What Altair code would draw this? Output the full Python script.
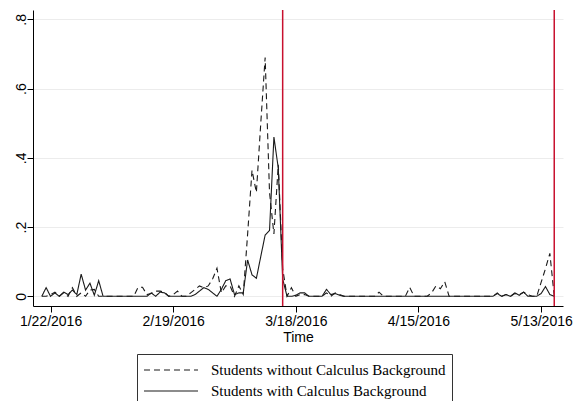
import altair as alt
import pandas as pd

# Daily share of activity, 2016-01-20 .. 2016-05-16
dates = pd.date_range("2016-01-20", "2016-05-16", freq="D").strftime("%Y-%m-%dT00:00:00").tolist()

without_calc = [
    0, 0, 0.005, 0.012, 0, 0.01, 0, 0.025, 0, 0.01,            # 1/20 - 1/29
    0, 0.018, 0.02, 0, 0, 0, 0, 0, 0, 0,                        # 1/30 - 2/8
    0, 0, 0.026, 0.026, 0.005, 0.008, 0.015, 0.015, 0.012, 0,   # 2/9 - 2/18
    0.005, 0.015, 0, 0, 0.01, 0.02, 0.03, 0.025, 0.03, 0.05,    # 2/19 - 2/28
    0.081, 0.01, 0.03, 0.03, 0, 0.03, 0.005, 0.18, 0.364, 0.3,  # 2/29 - 3/9
    0.5, 0.69, 0.3, 0.18, 0.38, 0.08, 0, 0.025, 0, 0.005,       # 3/10 - 3/19
    0.005, 0, 0, 0, 0, 0.01, 0, 0.01, 0.005, 0,                 # 3/20 - 3/29
    0, 0, 0, 0, 0, 0, 0, 0.012, 0, 0,                           # 3/30 - 4/8
    0, 0, 0, 0, 0.026, 0, 0, 0, 0, 0.01,                        # 4/9 - 4/18
    0.03, 0.022, 0.042, 0, 0, 0, 0, 0, 0, 0,                    # 4/19 - 4/28
    0, 0, 0, 0, 0.01, 0, 0.005, 0, 0.008, 0.005,                # 4/29 - 5/8
    0.012, 0.005, 0, 0, 0.04, 0.08, 0.124, 0,                   # 5/9 - 5/16
]

with_calc = [
    0, 0.025, 0, 0.01, 0, 0.012, 0.005, 0.018, 0.005, 0.064,    # 1/20 - 1/29
    0.018, 0.038, 0.003, 0.045, 0, 0, 0, 0, 0, 0,              # 1/30 - 2/8
    0, 0, 0, 0, 0, 0.01, 0, 0.012, 0.01, 0,                     # 2/9 - 2/18
    0, 0, 0, 0, 0, 0.005, 0.015, 0.025, 0.02, 0.01,             # 2/19 - 2/28
    0, 0.02, 0.045, 0.05, 0.005, 0.01, 0.01, 0.105, 0.062, 0.052,  # 2/29 - 3/9
    0.115, 0.177, 0.19, 0.46, 0.37, 0.05, 0, 0, 0.003, 0.01,    # 3/10 - 3/19
    0.01, 0, 0, 0, 0, 0.02, 0.005, 0.008, 0.003, 0,             # 3/20 - 3/29
    0, 0, 0, 0, 0, 0, 0, 0, 0, 0,                               # 3/30 - 4/8
    0, 0, 0, 0, 0, 0, 0, 0, 0, 0,                               # 4/9 - 4/18
    0, 0, 0, 0, 0, 0, 0, 0, 0, 0,                               # 4/19 - 4/28
    0, 0, 0, 0, 0.008, 0, 0.005, 0, 0.01, 0.003,                # 4/29 - 5/8
    0.012, 0, 0, 0, 0.008, 0.028, 0.005, 0,                     # 5/9 - 5/16
]

groups = ["Students without Calculus Background", "Students with Calculus Background"]
event_dates = ["2016-03-15T00:00:00", "2016-05-16T00:00:00"]
y_ticks = [0, 0.2, 0.4, 0.6, 0.8]

n = len(dates)
series = pd.DataFrame({
    "date": dates * 2,
    "share": without_calc + with_calc,
    "group": [groups[0]] * n + [groups[1]] * n,
})
events = pd.DataFrame({"date": event_dates})

x_scale = alt.Scale(domain=[alt.DateTime(year=2016, month=1, date=18),
                            alt.DateTime(year=2016, month=5, date=18)])
x_axis = alt.Axis(
    title="Time",
    values=[alt.DateTime(year=2016, month=1, date=22),
            alt.DateTime(year=2016, month=2, date=19),
            alt.DateTime(year=2016, month=3, date=18),
            alt.DateTime(year=2016, month=4, date=15),
            alt.DateTime(year=2016, month=5, date=13)],
    format="%-m/%-d/%Y",
    grid=False,
    labelAngle=0,
    labelPadding=2,
    titlePadding=2,
)

# Legend key: a wide horizontal stroke (path scaled by sqrt(size)/2),
# so each row stays compact while the key line is ~54px long.
legend = alt.Legend(
    title=None,
    orient="none",
    legendX=104,
    legendY=344,
    symbolType="M-3,0H3",
    symbolSize=324,
    symbolOffset=18,
    symbolStrokeWidth=1.1,
    symbolStrokeColor="#1a1a1a",
    symbolFillColor="transparent",
    labelFont="Liberation Serif",
    labelFontSize=15,
    labelColor="#000000",
    labelOffset=30,
    labelLimit=600,
    strokeColor="#333333",
    padding=6,
    rowPadding=3,
)

lines = alt.Chart(series).mark_line(strokeWidth=1.1, color="#1a1a1a").encode(
    x=alt.X("date:T", scale=x_scale, axis=x_axis),
    y=alt.Y(
        "share:Q",
        scale=alt.Scale(domain=[-0.028, 0.827], nice=False, zero=False),
        axis=alt.Axis(
            title=None,
            values=y_ticks,
            labelExpr="datum.value == 0 ? '0' : '.' + round(datum.value * 10)",
            labelAngle=270,
            labelAlign="center",
            labelBaseline="alphabetic",
            labelPadding=2,
            grid=True,
        ),
    ),
    strokeDash=alt.StrokeDash(
        "group:N",
        scale=alt.Scale(domain=groups, range=[[6, 4], [1, 0]]),
        legend=legend,
    ),
)

rules = alt.Chart(events).mark_rule(color="#c8102e", strokeWidth=1.5).encode(
    x=alt.X("date:T", scale=x_scale),
)

chart = alt.layer(lines, rules).properties(
    width=530,
    height=296,
    padding={"left": 33, "top": 10, "right": 16, "bottom": 95},
    autosize=alt.AutoSizeParams(type="none"),
    background="white",
).configure_view(
    stroke=None,
).configure_axis(
    labelFont="Liberation Sans",
    titleFont="Liberation Sans",
    labelFontSize=14,
    titleFontSize=14,
    titleFontWeight="normal",
    labelColor="#000000",
    titleColor="#000000",
    domainColor="#000000",
    tickColor="#000000",
    tickSize=6,
    domainWidth=1,
    tickWidth=1,
    gridColor="#ececec",
    gridWidth=1,
)

chart.save("out.html", embed_options={"renderer": "svg", "actions": False})
